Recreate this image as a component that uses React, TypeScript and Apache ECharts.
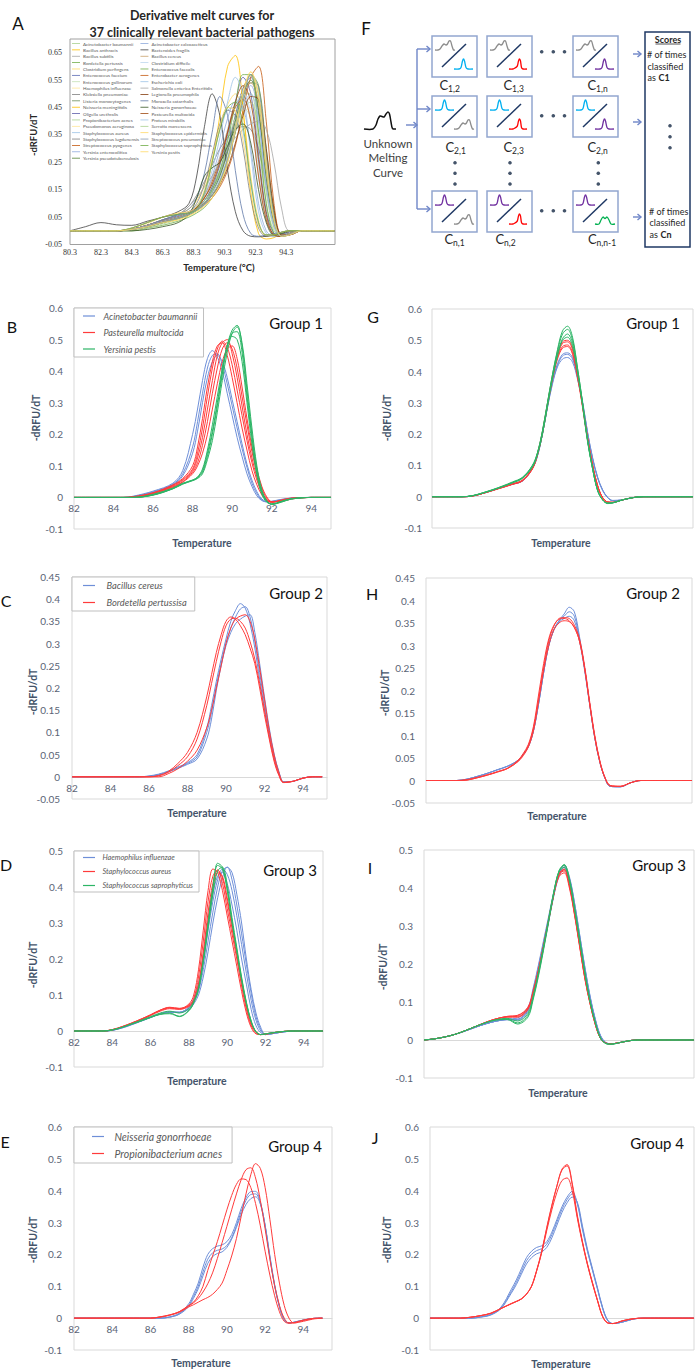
import React, { useEffect, useRef } from "react";
import * as echarts from "echarts";

const FONT = "Lato, 'Noto Sans', sans-serif";
const SERIF = "'Liberation Serif', 'DejaVu Serif', serif";
const TICK = "#5A6375";
const TITLE = "#44546A";
const BLUE = "#6E8FD8";
const RED = "#FF3B3B";
const GREEN = "#2DB566";
const LINE_ICON = "path://M0,0L20,0L20,2L0,2Z";

// ---------------- Panel A (37 pathogens) ----------------
const TEMP_A = [80.3, 81.3, 82.3, 83.3, 84.3, 85.3, 86.3, 87.3, 88, 88.5, 89, 89.5, 90, 90.5, 91, 91.5, 92, 92.5, 93, 93.5, 94, 94.5, 95.3, 97.4];
const A_NAMES = [
  "Acinetobacter baumannii", "Bacillus anthracis", "Bacillus subtilis", "Bordetella pertussis", "Clostridium perfingens",
  "Enterococcus faecium", "Enterococcus gallinarum", "Haemophilus influenzae", "Klebsiella pneumoniae", "Listeria monocytogenes",
  "Neisseria meningitidis", "Oligella urethralis", "Propionibacterium acnes", "Pseudomonas aeruginosa", "Staphylococcus aureus",
  "Staphylococcus lugdunensis", "Streptococcus pyogenes", "Yersinia enterocolitica", "Yersinia pseudotuberculosis",
  "Acinetobacter calcoaceticus", "Bacteroides fragilis", "Bacillus cereus", "Clostridium difficile", "Enterococcus faecalis",
  "Enterobacter aerogenes", "Escherichia coli", "Salmonella enterica Enteritidis", "Legionella pneumophila", "Moraxella catarrhalis",
  "Neisseria gonorrhoeae", "Pasteurella multocida", "Proteus mirabilis", "Serratia marcescens", "Staphylococcus epidermidis",
  "Streptococcus pneumoniae", "Staphylococcus saprophyticus", "Yersinia pestis",
];
const A_COLORS = [
  "#A9D18E", "#FFC000", "#A5A5A5", "#70AD47", "#FFD966", "#5B6BB5", "#C5E0B4", "#FFE699", "#7F7F7F", "#6B8E5A",
  "#FFC000", "#5E5EAA", "#A9D18E", "#FFE699", "#9DC3E6", "#7F7F7F", "#C55A11", "#8FAADC", "#548235",
  "#8FAADC", "#404040", "#C9A26B", "#BDD7EE", "#70AD47", "#C55A11", "#9DC3E6", "#A5A5A5", "#843C0C", "#5F78A8",
  "#375623", "#9E480E", "#9DC3E6", "#A9D18E", "#FFD966", "#8497B0", "#70AD47", "#FFD966",
];
const A_CURVES = [
  [0, 0, 0, 0, 0.005, 0.02, 0.035, 0.05, 0.065, 0.085, 0.11, 0.16, 0.22, 0.31, 0.42, 0.5, 0.5, 0.32, 0.1, 0, -0.02, -0.01, 0, 0],
  [0, 0, 0, 0, 0.005, 0.015, 0.03, 0.045, 0.06, 0.075, 0.1, 0.14, 0.2, 0.29, 0.41, 0.52, 0.57, 0.45, 0.2, 0.03, -0.02, -0.015, 0, 0],
  [0, 0, 0, 0, 0.005, 0.02, 0.04, 0.055, 0.07, 0.09, 0.13, 0.19, 0.27, 0.37, 0.46, 0.49, 0.4, 0.2, 0.04, -0.015, -0.02, -0.01, 0, 0],
  [0, 0, 0, 0, 0, 0.01, 0.02, 0.035, 0.05, 0.065, 0.085, 0.12, 0.17, 0.25, 0.36, 0.48, 0.57, 0.53, 0.28, 0.06, -0.02, -0.015, 0, 0],
  [0, 0, 0, 0, 0.005, 0.02, 0.04, 0.06, 0.08, 0.11, 0.17, 0.26, 0.37, 0.46, 0.5, 0.42, 0.2, 0.04, -0.02, -0.02, -0.01, 0, 0, 0],
  [0, 0, 0, 0, 0.005, 0.02, 0.04, 0.055, 0.07, 0.085, 0.11, 0.15, 0.21, 0.3, 0.42, 0.52, 0.56, 0.43, 0.18, 0.02, -0.02, -0.01, 0, 0],
  [0, 0, 0, 0, 0.005, 0.02, 0.035, 0.05, 0.065, 0.085, 0.12, 0.17, 0.24, 0.33, 0.41, 0.45, 0.41, 0.25, 0.07, -0.01, -0.02, -0.01, 0, 0],
  [0, 0, 0, 0, 0.005, 0.025, 0.05, 0.065, 0.07, 0.08, 0.1, 0.14, 0.2, 0.28, 0.37, 0.43, 0.45, 0.36, 0.15, 0.02, -0.015, -0.01, 0, 0],
  [0, 0, 0, 0, 0.005, 0.02, 0.04, 0.06, 0.09, 0.13, 0.18, 0.24, 0.3, 0.34, 0.37, 0.38, 0.37, 0.3, 0.17, 0.05, -0.01, -0.01, 0, 0],
  [0, 0, 0, 0, 0.005, 0.02, 0.035, 0.05, 0.065, 0.08, 0.1, 0.13, 0.18, 0.26, 0.36, 0.47, 0.54, 0.53, 0.3, 0.07, -0.02, -0.015, 0, 0],
  [0, 0, 0, 0, 0.005, 0.015, 0.03, 0.045, 0.06, 0.08, 0.13, 0.25, 0.42, 0.6, 0.64, 0.45, 0.14, -0.01, -0.03, -0.025, -0.01, 0, 0, 0],
  [0, 0, 0, 0, 0.005, 0.02, 0.035, 0.05, 0.065, 0.08, 0.11, 0.16, 0.24, 0.35, 0.47, 0.56, 0.5, 0.28, 0.07, -0.01, -0.02, -0.01, 0, 0],
  [0, 0, 0, 0, 0, 0.01, 0.025, 0.04, 0.06, 0.08, 0.11, 0.15, 0.21, 0.29, 0.38, 0.45, 0.47, 0.36, 0.14, 0.01, -0.02, -0.01, 0, 0],
  [0, 0, 0, 0, 0.005, 0.015, 0.03, 0.04, 0.055, 0.07, 0.09, 0.12, 0.17, 0.25, 0.37, 0.5, 0.58, 0.5, 0.24, 0.04, -0.02, -0.015, 0, 0],
  [0, 0, 0, 0, 0.01, 0.03, 0.05, 0.06, 0.065, 0.08, 0.14, 0.25, 0.37, 0.44, 0.45, 0.36, 0.17, 0.03, -0.015, -0.015, -0.005, 0, 0, 0],
  [0, 0, 0, 0, 0.01, 0.03, 0.05, 0.06, 0.07, 0.1, 0.17, 0.28, 0.39, 0.44, 0.42, 0.3, 0.12, 0.01, -0.02, -0.015, -0.005, 0, 0, 0],
  [0, 0, 0, 0, 0.005, 0.015, 0.03, 0.045, 0.06, 0.075, 0.095, 0.12, 0.16, 0.22, 0.31, 0.44, 0.56, 0.6, 0.4, 0.1, -0.015, -0.015, 0, 0],
  [0, 0, 0, 0, 0.005, 0.015, 0.03, 0.045, 0.06, 0.075, 0.1, 0.14, 0.2, 0.29, 0.4, 0.5, 0.53, 0.4, 0.16, 0.02, -0.02, -0.01, 0, 0],
  [0, 0, 0, 0, 0.005, 0.015, 0.03, 0.045, 0.06, 0.075, 0.1, 0.14, 0.2, 0.29, 0.4, 0.5, 0.55, 0.44, 0.19, 0.03, -0.02, -0.01, 0, 0],
  [0, 0, 0, 0, 0.005, 0.02, 0.035, 0.05, 0.07, 0.09, 0.13, 0.2, 0.3, 0.41, 0.47, 0.45, 0.3, 0.1, 0, -0.02, -0.015, -0.005, 0, 0],
  [0, 0.015, 0.03, 0.022, 0.02, 0.035, 0.05, 0.07, 0.1, 0.2, 0.38, 0.5, 0.42, 0.22, 0.07, 0, -0.02, -0.022, -0.02, -0.015, -0.01, -0.004, 0, 0],
  [0, 0, 0, 0, 0.005, 0.02, 0.035, 0.05, 0.065, 0.08, 0.1, 0.13, 0.18, 0.26, 0.38, 0.49, 0.54, 0.47, 0.22, 0.04, -0.02, -0.01, 0, 0],
  [0, 0, 0, 0, 0.005, 0.02, 0.035, 0.05, 0.065, 0.085, 0.12, 0.18, 0.26, 0.36, 0.46, 0.5, 0.43, 0.23, 0.05, -0.015, -0.02, -0.01, 0, 0],
  [0, 0, 0, 0, 0.005, 0.015, 0.03, 0.045, 0.06, 0.075, 0.1, 0.15, 0.22, 0.33, 0.46, 0.57, 0.57, 0.36, 0.1, -0.01, -0.02, -0.01, 0, 0],
  [0, 0, 0, 0, 0.005, 0.02, 0.035, 0.05, 0.065, 0.085, 0.12, 0.18, 0.26, 0.36, 0.45, 0.48, 0.4, 0.2, 0.04, -0.015, -0.02, -0.01, 0, 0],
  [0, 0, 0, 0, 0.005, 0.02, 0.035, 0.05, 0.065, 0.09, 0.14, 0.22, 0.34, 0.47, 0.56, 0.5, 0.28, 0.07, -0.01, -0.02, -0.01, 0, 0, 0],
  [0, 0, 0, 0, 0.005, 0.02, 0.04, 0.06, 0.09, 0.12, 0.16, 0.2, 0.25, 0.3, 0.34, 0.37, 0.39, 0.4, 0.37, 0.25, 0.08, 0, 0, 0],
  [0, 0, 0, 0, 0.005, 0.02, 0.035, 0.05, 0.065, 0.08, 0.1, 0.13, 0.17, 0.23, 0.32, 0.42, 0.49, 0.48, 0.3, 0.08, -0.015, -0.015, 0, 0],
  [0, 0, 0, 0, 0.005, 0.02, 0.04, 0.06, 0.08, 0.12, 0.21, 0.36, 0.49, 0.42, 0.22, 0.06, -0.01, -0.02, -0.015, -0.01, -0.005, 0, 0, 0],
  [0, 0, 0, 0, 0, 0.005, 0.015, 0.03, 0.06, 0.12, 0.2, 0.23, 0.25, 0.31, 0.37, 0.39, 0.32, 0.15, 0.03, -0.015, -0.01, 0, 0, 0],
  [0, 0, 0, 0, 0.005, 0.02, 0.035, 0.05, 0.065, 0.085, 0.12, 0.17, 0.25, 0.36, 0.47, 0.53, 0.47, 0.26, 0.06, -0.015, -0.02, -0.01, 0, 0],
  [0, 0, 0, 0, 0.005, 0.02, 0.035, 0.05, 0.065, 0.08, 0.1, 0.14, 0.19, 0.27, 0.37, 0.46, 0.5, 0.4, 0.17, 0.02, -0.02, -0.01, 0, 0],
  [0, 0, 0, 0, 0.005, 0.015, 0.03, 0.045, 0.06, 0.075, 0.095, 0.13, 0.18, 0.26, 0.38, 0.5, 0.57, 0.49, 0.23, 0.04, -0.02, -0.015, 0, 0],
  [0, 0, 0, 0, 0.01, 0.03, 0.05, 0.065, 0.07, 0.09, 0.15, 0.26, 0.38, 0.45, 0.44, 0.33, 0.14, 0.02, -0.015, -0.015, -0.005, 0, 0, 0],
  [0, 0, 0, 0, 0.005, 0.015, 0.03, 0.045, 0.06, 0.075, 0.095, 0.13, 0.18, 0.26, 0.37, 0.49, 0.57, 0.52, 0.27, 0.05, -0.02, -0.015, 0, 0],
  [0, 0, 0, 0, 0.01, 0.03, 0.05, 0.06, 0.065, 0.08, 0.14, 0.25, 0.37, 0.45, 0.47, 0.38, 0.18, 0.03, -0.015, -0.015, -0.005, 0, 0, 0],
  [0, 0, 0, 0, 0.005, 0.015, 0.03, 0.04, 0.055, 0.07, 0.09, 0.12, 0.17, 0.25, 0.37, 0.5, 0.58, 0.5, 0.25, 0.04, -0.02, -0.015, 0, 0],
];

// ---------------- Group 1 : panel B (raw) ----------------
const TEMP_B = [82, 84.5, 85, 86, 87, 87.5, 88, 88.25, 88.5, 88.75, 89, 89.25, 89.5, 89.75, 90, 90.25, 90.5, 90.75, 91, 91.25, 91.5, 91.75, 92, 92.5, 93, 94, 95];
const B_BAUMANNII = [
  [0, 0, 0.004, 0.02, 0.045, 0.085, 0.2, 0.28, 0.37, 0.44, 0.465, 0.445, 0.4, 0.33, 0.26, 0.19, 0.13, 0.075, 0.035, 0.005, -0.01, -0.014, -0.012, -0.006, -0.002, 0, 0],
  [0, 0, 0.003, 0.018, 0.042, 0.075, 0.16, 0.24, 0.33, 0.41, 0.45, 0.455, 0.42, 0.36, 0.29, 0.22, 0.155, 0.095, 0.045, 0.012, -0.008, -0.014, -0.013, -0.007, -0.002, 0, 0],
  [0, 0, 0.002, 0.016, 0.04, 0.068, 0.14, 0.21, 0.3, 0.38, 0.43, 0.45, 0.43, 0.38, 0.31, 0.24, 0.17, 0.105, 0.055, 0.018, -0.005, -0.013, -0.014, -0.008, -0.003, 0, 0],
];
const B_MULTOCIDA = [
  [0, 0, 0.002, 0.015, 0.04, 0.06, 0.1, 0.16, 0.25, 0.35, 0.43, 0.48, 0.49, 0.45, 0.38, 0.3, 0.22, 0.15, 0.085, 0.04, 0.008, -0.01, -0.015, -0.008, -0.002, 0, 0],
  [0, 0, 0.002, 0.014, 0.038, 0.057, 0.09, 0.14, 0.22, 0.32, 0.41, 0.47, 0.495, 0.475, 0.42, 0.34, 0.26, 0.18, 0.11, 0.055, 0.015, -0.008, -0.015, -0.009, -0.003, 0, 0],
  [0, 0, 0.001, 0.013, 0.036, 0.054, 0.085, 0.125, 0.19, 0.28, 0.37, 0.45, 0.49, 0.5, 0.455, 0.38, 0.29, 0.2, 0.125, 0.065, 0.02, -0.006, -0.015, -0.01, -0.003, 0, 0],
  [0, 0, 0, 0.012, 0.034, 0.05, 0.08, 0.11, 0.165, 0.24, 0.33, 0.41, 0.47, 0.49, 0.47, 0.41, 0.32, 0.23, 0.145, 0.08, 0.03, -0.002, -0.014, -0.011, -0.004, 0, 0],
  [0, 0, 0, 0.01, 0.032, 0.048, 0.075, 0.1, 0.14, 0.2, 0.28, 0.36, 0.43, 0.47, 0.48, 0.44, 0.35, 0.25, 0.16, 0.09, 0.035, 0.002, -0.013, -0.012, -0.005, 0, 0],
];
const B_PESTIS = [
  [0, 0, 0, 0.01, 0.03, 0.045, 0.055, 0.065, 0.09, 0.15, 0.23, 0.32, 0.41, 0.48, 0.51, 0.5, 0.43, 0.3, 0.17, 0.07, 0.01, -0.015, -0.02, -0.012, -0.004, 0, 0],
  [0, 0, 0, 0.008, 0.028, 0.043, 0.054, 0.062, 0.08, 0.13, 0.2, 0.29, 0.39, 0.48, 0.53, 0.545, 0.48, 0.34, 0.2, 0.09, 0.02, -0.012, -0.022, -0.014, -0.005, 0, 0],
  [0, 0, 0, 0.007, 0.027, 0.042, 0.053, 0.06, 0.075, 0.12, 0.18, 0.27, 0.37, 0.46, 0.52, 0.54, 0.49, 0.36, 0.22, 0.1, 0.025, -0.01, -0.022, -0.015, -0.005, 0, 0],
  [0, 0, 0, 0.008, 0.028, 0.044, 0.055, 0.063, 0.085, 0.14, 0.21, 0.3, 0.4, 0.48, 0.52, 0.525, 0.46, 0.32, 0.19, 0.08, 0.015, -0.013, -0.021, -0.013, -0.004, 0, 0],
];

// ---------------- Group 1 : panel G (aligned) ----------------
const TEMP_G = [82, 83.5, 84, 84.5, 85, 85.5, 86, 86.5, 87, 87.25, 87.5, 87.75, 88, 88.25, 88.5, 88.75, 89, 89.25, 89.5, 89.75, 90, 90.25, 90.5, 90.75, 91, 91.5, 92, 92.5, 93, 95];
const G_BAUMANNII = [
  [0, 0, 0.002, 0.01, 0.02, 0.03, 0.04, 0.05, 0.09, 0.13, 0.2, 0.285, 0.365, 0.42, 0.45, 0.455, 0.44, 0.38, 0.3, 0.2, 0.12, 0.06, 0.02, -0.003, -0.012, -0.01, -0.003, 0, 0, 0],
  [0, 0, 0.002, 0.01, 0.02, 0.03, 0.04, 0.05, 0.09, 0.13, 0.2, 0.285, 0.36, 0.415, 0.44, 0.445, 0.43, 0.375, 0.3, 0.205, 0.125, 0.063, 0.022, -0.002, -0.012, -0.01, -0.003, 0, 0, 0],
  [0, 0, 0.002, 0.01, 0.02, 0.03, 0.04, 0.05, 0.09, 0.13, 0.2, 0.29, 0.37, 0.425, 0.455, 0.46, 0.445, 0.385, 0.305, 0.205, 0.122, 0.06, 0.02, -0.003, -0.013, -0.01, -0.003, 0, 0, 0],
];
const G_MULTOCIDA = [
  [0, 0, 0.002, 0.01, 0.02, 0.03, 0.04, 0.052, 0.09, 0.135, 0.205, 0.295, 0.38, 0.45, 0.49, 0.495, 0.47, 0.39, 0.29, 0.185, 0.1, 0.035, -0.003, -0.017, -0.018, -0.01, -0.003, 0, 0, 0],
  [0, 0, 0.002, 0.01, 0.02, 0.03, 0.04, 0.052, 0.09, 0.135, 0.205, 0.295, 0.38, 0.445, 0.48, 0.485, 0.46, 0.385, 0.29, 0.185, 0.1, 0.035, -0.003, -0.017, -0.018, -0.01, -0.003, 0, 0, 0],
  [0, 0, 0.002, 0.01, 0.02, 0.03, 0.041, 0.053, 0.092, 0.137, 0.207, 0.297, 0.385, 0.455, 0.495, 0.5, 0.475, 0.395, 0.295, 0.19, 0.102, 0.036, -0.003, -0.017, -0.018, -0.01, -0.003, 0, 0, 0],
  [0, 0, 0.002, 0.01, 0.019, 0.029, 0.039, 0.05, 0.088, 0.132, 0.2, 0.29, 0.375, 0.44, 0.475, 0.48, 0.455, 0.38, 0.285, 0.18, 0.097, 0.033, -0.004, -0.017, -0.018, -0.01, -0.003, 0, 0, 0],
];
const G_PESTIS = [
  [0, 0, 0.003, 0.012, 0.022, 0.033, 0.045, 0.06, 0.1, 0.14, 0.21, 0.3, 0.39, 0.47, 0.53, 0.545, 0.51, 0.41, 0.3, 0.18, 0.09, 0.02, -0.01, -0.022, -0.02, -0.01, -0.003, 0, 0, 0],
  [0, 0, 0.003, 0.012, 0.022, 0.034, 0.047, 0.062, 0.1, 0.14, 0.21, 0.3, 0.39, 0.465, 0.52, 0.535, 0.5, 0.41, 0.3, 0.18, 0.09, 0.02, -0.01, -0.021, -0.02, -0.01, -0.003, 0, 0, 0],
  [0, 0, 0.003, 0.011, 0.021, 0.032, 0.045, 0.06, 0.095, 0.135, 0.2, 0.29, 0.38, 0.455, 0.505, 0.52, 0.49, 0.4, 0.295, 0.18, 0.09, 0.02, -0.01, -0.021, -0.019, -0.01, -0.003, 0, 0, 0],
  [0, 0, 0.003, 0.011, 0.021, 0.032, 0.044, 0.058, 0.095, 0.135, 0.2, 0.29, 0.38, 0.45, 0.5, 0.51, 0.48, 0.395, 0.29, 0.175, 0.088, 0.02, -0.01, -0.02, -0.019, -0.01, -0.003, 0, 0, 0],
];

// ---------------- Group 2 : panel C (raw) ----------------
const TEMP_C = [82, 85.5, 86, 86.5, 87, 87.5, 88, 88.5, 89, 89.25, 89.5, 89.75, 90, 90.25, 90.5, 90.75, 91, 91.25, 91.5, 91.75, 92, 92.25, 92.5, 92.75, 93, 93.5, 94, 94.5, 95];
const C_CEREUS = [
  [0, 0, 0.002, 0.006, 0.013, 0.022, 0.032, 0.05, 0.11, 0.16, 0.215, 0.265, 0.31, 0.35, 0.375, 0.39, 0.38, 0.345, 0.29, 0.22, 0.155, 0.095, 0.045, 0.008, -0.012, -0.01, -0.003, 0, 0],
  [0, 0, 0.001, 0.005, 0.012, 0.02, 0.03, 0.045, 0.1, 0.145, 0.205, 0.255, 0.3, 0.335, 0.36, 0.378, 0.383, 0.36, 0.305, 0.235, 0.165, 0.1, 0.048, 0.01, -0.012, -0.01, -0.003, 0, 0],
  [0, 0, 0.001, 0.004, 0.011, 0.019, 0.028, 0.04, 0.085, 0.13, 0.195, 0.25, 0.295, 0.325, 0.345, 0.355, 0.362, 0.365, 0.325, 0.255, 0.18, 0.11, 0.052, 0.012, -0.011, -0.01, -0.003, 0, 0],
];
const C_PERTUSSIS = [
  [0, 0, 0, 0.003, 0.012, 0.03, 0.055, 0.1, 0.18, 0.23, 0.28, 0.32, 0.35, 0.36, 0.355, 0.34, 0.32, 0.29, 0.255, 0.2, 0.14, 0.085, 0.035, 0.003, -0.013, -0.01, -0.003, 0, 0],
  [0, 0, 0, 0.002, 0.01, 0.025, 0.045, 0.085, 0.16, 0.21, 0.26, 0.305, 0.34, 0.355, 0.357, 0.35, 0.335, 0.305, 0.265, 0.21, 0.15, 0.09, 0.04, 0.005, -0.013, -0.01, -0.003, 0, 0],
  [0, 0, 0, 0, 0.007, 0.018, 0.035, 0.06, 0.11, 0.15, 0.2, 0.25, 0.3, 0.335, 0.355, 0.362, 0.365, 0.35, 0.31, 0.245, 0.175, 0.105, 0.05, 0.01, -0.012, -0.01, -0.003, 0, 0],
];

// ---------------- Group 2 : panel H (aligned) ----------------
const TEMP_H = [82, 83.5, 84, 84.5, 85, 85.5, 86, 86.5, 86.75, 87, 87.25, 87.5, 87.75, 88, 88.25, 88.5, 88.75, 89, 89.25, 89.5, 89.75, 90, 90.25, 90.5, 90.75, 91, 91.5, 92, 92.5, 93, 95];
const H_CEREUS = [
  [0, 0, 0.003, 0.009, 0.016, 0.024, 0.032, 0.045, 0.058, 0.075, 0.11, 0.17, 0.24, 0.3, 0.335, 0.355, 0.37, 0.385, 0.375, 0.32, 0.25, 0.17, 0.095, 0.04, 0.005, -0.013, -0.014, -0.005, 0, 0, 0],
  [0, 0, 0.003, 0.009, 0.016, 0.024, 0.032, 0.045, 0.058, 0.075, 0.11, 0.17, 0.24, 0.3, 0.335, 0.355, 0.365, 0.375, 0.365, 0.315, 0.25, 0.17, 0.095, 0.04, 0.005, -0.013, -0.014, -0.005, 0, 0, 0],
  [0, 0, 0.003, 0.009, 0.016, 0.024, 0.032, 0.045, 0.058, 0.075, 0.11, 0.17, 0.24, 0.3, 0.335, 0.352, 0.36, 0.365, 0.355, 0.31, 0.245, 0.168, 0.094, 0.04, 0.005, -0.013, -0.014, -0.005, 0, 0, 0],
];
const H_PERTUSSIS = [
  [0, 0, 0.002, 0.007, 0.013, 0.02, 0.028, 0.045, 0.06, 0.08, 0.12, 0.19, 0.26, 0.315, 0.345, 0.358, 0.36, 0.355, 0.34, 0.31, 0.25, 0.17, 0.095, 0.04, 0.005, -0.012, -0.013, -0.005, 0, 0, 0],
  [0, 0, 0.001, 0.006, 0.012, 0.019, 0.027, 0.043, 0.057, 0.077, 0.115, 0.18, 0.25, 0.31, 0.343, 0.36, 0.362, 0.36, 0.345, 0.315, 0.255, 0.175, 0.1, 0.043, 0.007, -0.011, -0.013, -0.005, 0, 0, 0],
  [0, 0, 0.001, 0.006, 0.012, 0.019, 0.027, 0.042, 0.055, 0.074, 0.11, 0.175, 0.245, 0.3, 0.335, 0.35, 0.355, 0.353, 0.34, 0.31, 0.25, 0.17, 0.097, 0.042, 0.006, -0.011, -0.013, -0.005, 0, 0, 0],
];

// ---------------- Group 3 : panel D (raw) ----------------
const TEMP_D = [82, 83.5, 84, 84.5, 85, 85.5, 86, 86.5, 87, 87.5, 88, 88.25, 88.5, 88.75, 89, 89.25, 89.5, 89.75, 90, 90.25, 90.5, 90.75, 91, 91.25, 91.5, 91.75, 92, 92.5, 93, 93.5, 95];
const D_INFLUENZAE = [
  [0, 0, 0.002, 0.009, 0.018, 0.028, 0.038, 0.048, 0.053, 0.052, 0.065, 0.085, 0.12, 0.19, 0.28, 0.36, 0.42, 0.45, 0.435, 0.39, 0.32, 0.24, 0.16, 0.085, 0.03, 0, -0.01, -0.006, -0.002, 0, 0],
  [0, 0, 0.002, 0.009, 0.018, 0.028, 0.038, 0.048, 0.053, 0.052, 0.063, 0.08, 0.11, 0.17, 0.25, 0.33, 0.4, 0.445, 0.455, 0.42, 0.35, 0.27, 0.185, 0.105, 0.04, 0.005, -0.01, -0.006, -0.002, 0, 0],
  [0, 0, 0.002, 0.008, 0.017, 0.027, 0.037, 0.047, 0.052, 0.051, 0.06, 0.075, 0.1, 0.15, 0.22, 0.3, 0.37, 0.425, 0.455, 0.44, 0.38, 0.3, 0.2, 0.115, 0.05, 0.01, -0.009, -0.006, -0.002, 0, 0],
  [0, 0, 0.002, 0.009, 0.018, 0.028, 0.038, 0.048, 0.053, 0.052, 0.067, 0.09, 0.13, 0.21, 0.3, 0.38, 0.43, 0.44, 0.41, 0.35, 0.28, 0.2, 0.13, 0.06, 0.015, -0.005, -0.01, -0.006, -0.002, 0, 0],
];
const D_AUREUS = [
  [0, 0, 0.004, 0.012, 0.022, 0.033, 0.045, 0.058, 0.065, 0.062, 0.075, 0.1, 0.17, 0.28, 0.39, 0.45, 0.44, 0.39, 0.32, 0.25, 0.18, 0.11, 0.05, 0.01, -0.008, -0.01, -0.008, -0.004, -0.001, 0, 0],
  [0, 0, 0.004, 0.012, 0.022, 0.033, 0.045, 0.058, 0.066, 0.063, 0.072, 0.09, 0.15, 0.25, 0.36, 0.43, 0.447, 0.41, 0.34, 0.27, 0.2, 0.125, 0.06, 0.015, -0.005, -0.01, -0.008, -0.004, -0.001, 0, 0],
  [0, 0, 0.003, 0.011, 0.021, 0.032, 0.044, 0.057, 0.064, 0.061, 0.07, 0.085, 0.13, 0.22, 0.33, 0.41, 0.447, 0.425, 0.36, 0.285, 0.21, 0.135, 0.068, 0.02, -0.003, -0.01, -0.009, -0.004, -0.001, 0, 0],
  [0, 0, 0.003, 0.011, 0.021, 0.031, 0.043, 0.055, 0.062, 0.06, 0.068, 0.082, 0.125, 0.21, 0.31, 0.395, 0.44, 0.43, 0.37, 0.295, 0.22, 0.14, 0.072, 0.022, -0.002, -0.01, -0.009, -0.004, -0.001, 0, 0],
];
const D_SAPROPHYTICUS = [
  [0, 0, 0.003, 0.01, 0.019, 0.028, 0.038, 0.047, 0.05, 0.041, 0.058, 0.08, 0.12, 0.2, 0.3, 0.4, 0.46, 0.45, 0.39, 0.3, 0.22, 0.14, 0.075, 0.025, -0.002, -0.01, -0.008, -0.004, -0.001, 0, 0],
  [0, 0, 0.003, 0.01, 0.019, 0.028, 0.038, 0.046, 0.048, 0.04, 0.056, 0.078, 0.115, 0.195, 0.295, 0.395, 0.466, 0.455, 0.395, 0.305, 0.225, 0.145, 0.078, 0.027, -0.002, -0.01, -0.008, -0.004, -0.001, 0, 0],
  [0, 0, 0.003, 0.01, 0.02, 0.03, 0.04, 0.05, 0.055, 0.05, 0.062, 0.082, 0.118, 0.19, 0.285, 0.38, 0.445, 0.455, 0.405, 0.315, 0.232, 0.15, 0.08, 0.028, -0.002, -0.01, -0.008, -0.004, -0.001, 0, 0],
];

// ---------------- Group 3 : panel I (aligned) ----------------
const TEMP_I = [82, 82.5, 83, 83.5, 84, 84.5, 85, 85.5, 86, 86.5, 87, 87.25, 87.5, 87.75, 88, 88.25, 88.5, 88.75, 89, 89.25, 89.5, 89.75, 90, 90.25, 90.5, 90.75, 91, 91.5, 92, 92.5, 95];
const I_INFLUENZAE = [
  [0, 0.003, 0.008, 0.015, 0.024, 0.034, 0.043, 0.05, 0.053, 0.052, 0.075, 0.12, 0.175, 0.24, 0.31, 0.38, 0.435, 0.455, 0.425, 0.355, 0.27, 0.185, 0.11, 0.052, 0.01, -0.007, -0.01, -0.006, -0.001, 0, 0],
  [0, 0.003, 0.008, 0.015, 0.024, 0.034, 0.043, 0.05, 0.054, 0.055, 0.08, 0.13, 0.19, 0.255, 0.32, 0.385, 0.44, 0.46, 0.43, 0.36, 0.275, 0.19, 0.113, 0.053, 0.01, -0.007, -0.01, -0.006, -0.001, 0, 0],
  [0, 0.003, 0.008, 0.015, 0.024, 0.034, 0.043, 0.05, 0.055, 0.058, 0.085, 0.135, 0.195, 0.26, 0.325, 0.39, 0.44, 0.455, 0.42, 0.35, 0.265, 0.18, 0.108, 0.05, 0.009, -0.007, -0.01, -0.006, -0.001, 0, 0],
  [0, 0.003, 0.008, 0.015, 0.024, 0.034, 0.043, 0.05, 0.054, 0.054, 0.078, 0.125, 0.185, 0.25, 0.315, 0.38, 0.43, 0.45, 0.425, 0.36, 0.275, 0.19, 0.115, 0.055, 0.012, -0.006, -0.01, -0.006, -0.001, 0, 0],
];
const I_AUREUS = [
  [0, 0.003, 0.008, 0.015, 0.025, 0.036, 0.047, 0.056, 0.062, 0.065, 0.085, 0.125, 0.18, 0.245, 0.315, 0.385, 0.435, 0.445, 0.405, 0.33, 0.245, 0.16, 0.095, 0.04, 0.004, -0.008, -0.01, -0.006, -0.001, 0, 0],
  [0, 0.003, 0.008, 0.015, 0.025, 0.036, 0.047, 0.056, 0.061, 0.062, 0.082, 0.125, 0.18, 0.245, 0.315, 0.385, 0.438, 0.45, 0.41, 0.335, 0.25, 0.165, 0.097, 0.042, 0.004, -0.008, -0.01, -0.006, -0.001, 0, 0],
  [0, 0.003, 0.008, 0.015, 0.025, 0.036, 0.047, 0.056, 0.062, 0.064, 0.086, 0.127, 0.182, 0.247, 0.316, 0.383, 0.43, 0.44, 0.4, 0.328, 0.243, 0.16, 0.094, 0.04, 0.004, -0.008, -0.01, -0.006, -0.001, 0, 0],
  [0, 0.003, 0.008, 0.015, 0.025, 0.036, 0.047, 0.056, 0.06, 0.06, 0.08, 0.122, 0.178, 0.243, 0.313, 0.383, 0.436, 0.448, 0.408, 0.333, 0.248, 0.163, 0.096, 0.041, 0.004, -0.008, -0.01, -0.006, -0.001, 0, 0],
];
const I_SAPROPHYTICUS = [
  [0, 0.003, 0.008, 0.015, 0.025, 0.036, 0.046, 0.053, 0.055, 0.045, 0.065, 0.11, 0.17, 0.24, 0.315, 0.39, 0.445, 0.46, 0.42, 0.345, 0.26, 0.175, 0.1, 0.045, 0.005, -0.009, -0.011, -0.006, -0.001, 0, 0],
  [0, 0.003, 0.008, 0.015, 0.025, 0.036, 0.046, 0.053, 0.054, 0.042, 0.06, 0.105, 0.165, 0.235, 0.31, 0.385, 0.445, 0.462, 0.425, 0.35, 0.265, 0.178, 0.102, 0.046, 0.005, -0.009, -0.011, -0.006, -0.001, 0, 0],
  [0, 0.003, 0.008, 0.015, 0.025, 0.036, 0.046, 0.054, 0.057, 0.05, 0.07, 0.115, 0.175, 0.245, 0.318, 0.39, 0.442, 0.455, 0.418, 0.343, 0.258, 0.173, 0.1, 0.044, 0.005, -0.009, -0.011, -0.006, -0.001, 0, 0],
];

// ---------------- Group 4 : panel E (raw) ----------------
const TEMP_E = [82, 86, 86.5, 87, 87.5, 88, 88.25, 88.5, 88.75, 89, 89.25, 89.5, 89.75, 90, 90.25, 90.5, 90.75, 91, 91.25, 91.5, 91.75, 92, 92.25, 92.5, 92.75, 93, 93.25, 93.5, 94, 94.5, 95];
const E_GONORRHOEAE = [
  [0, 0, 0, 0.004, 0.015, 0.045, 0.075, 0.11, 0.16, 0.2, 0.218, 0.226, 0.23, 0.24, 0.262, 0.3, 0.345, 0.378, 0.397, 0.398, 0.365, 0.29, 0.19, 0.1, 0.035, -0.005, -0.015, -0.013, -0.006, -0.001, 0],
  [0, 0, 0, 0.003, 0.013, 0.04, 0.068, 0.1, 0.145, 0.185, 0.205, 0.213, 0.217, 0.228, 0.252, 0.29, 0.335, 0.37, 0.388, 0.39, 0.36, 0.29, 0.192, 0.102, 0.036, -0.005, -0.015, -0.013, -0.006, -0.001, 0],
  [0, 0, 0, 0.003, 0.012, 0.036, 0.062, 0.092, 0.133, 0.172, 0.193, 0.203, 0.208, 0.222, 0.248, 0.285, 0.325, 0.357, 0.375, 0.381, 0.358, 0.292, 0.196, 0.105, 0.038, -0.004, -0.015, -0.013, -0.006, -0.001, 0],
];
const E_ACNES = [
  [0, 0, 0.004, 0.01, 0.02, 0.04, 0.05, 0.07, 0.1, 0.15, 0.195, 0.24, 0.29, 0.34, 0.385, 0.42, 0.437, 0.435, 0.41, 0.36, 0.29, 0.21, 0.135, 0.07, 0.02, -0.01, -0.016, -0.014, -0.006, -0.001, 0],
  [0, 0, 0.004, 0.01, 0.02, 0.038, 0.048, 0.062, 0.082, 0.108, 0.142, 0.187, 0.237, 0.288, 0.34, 0.39, 0.435, 0.466, 0.472, 0.44, 0.37, 0.28, 0.185, 0.102, 0.04, 0, -0.015, -0.015, -0.007, -0.001, 0],
  [0, 0, 0.003, 0.009, 0.018, 0.035, 0.042, 0.05, 0.058, 0.065, 0.075, 0.09, 0.11, 0.15, 0.195, 0.25, 0.32, 0.39, 0.45, 0.485, 0.47, 0.41, 0.31, 0.2, 0.11, 0.04, 0, -0.015, -0.01, -0.003, 0],
];

// ---------------- Group 4 : panel J (aligned) ----------------
const TEMP_J = [82, 83.5, 84, 84.5, 85, 85.5, 86, 86.25, 86.5, 86.75, 87, 87.25, 87.5, 87.75, 88, 88.25, 88.5, 88.75, 89, 89.25, 89.5, 89.75, 90, 90.25, 90.5, 90.75, 91, 91.5, 92, 92.5, 95];
const J_GONORRHOEAE = [
  [0, 0, 0, 0.004, 0.012, 0.035, 0.09, 0.12, 0.155, 0.19, 0.21, 0.222, 0.227, 0.24, 0.27, 0.31, 0.35, 0.38, 0.398, 0.36, 0.28, 0.21, 0.15, 0.09, 0.03, -0.008, -0.017, -0.012, -0.003, 0, 0],
  [0, 0, 0, 0.004, 0.011, 0.032, 0.083, 0.112, 0.146, 0.18, 0.2, 0.212, 0.218, 0.232, 0.262, 0.302, 0.342, 0.372, 0.39, 0.362, 0.285, 0.213, 0.152, 0.092, 0.032, -0.007, -0.017, -0.012, -0.003, 0, 0],
  [0, 0, 0, 0.003, 0.01, 0.03, 0.078, 0.105, 0.138, 0.17, 0.19, 0.202, 0.208, 0.222, 0.252, 0.292, 0.332, 0.362, 0.38, 0.365, 0.292, 0.218, 0.156, 0.095, 0.034, -0.006, -0.017, -0.012, -0.003, 0, 0],
];
const J_ACNES = [
  [0, 0, 0.003, 0.008, 0.015, 0.03, 0.045, 0.052, 0.06, 0.075, 0.1, 0.15, 0.21, 0.285, 0.355, 0.415, 0.465, 0.478, 0.42, 0.32, 0.24, 0.17, 0.11, 0.055, 0.005, -0.015, -0.017, -0.008, -0.002, 0, 0],
  [0, 0, 0.003, 0.008, 0.016, 0.031, 0.046, 0.053, 0.061, 0.076, 0.1, 0.148, 0.208, 0.282, 0.352, 0.415, 0.468, 0.482, 0.425, 0.325, 0.243, 0.172, 0.112, 0.056, 0.006, -0.015, -0.017, -0.008, -0.002, 0, 0],
  [0, 0, 0.003, 0.008, 0.015, 0.03, 0.045, 0.052, 0.06, 0.075, 0.1, 0.148, 0.205, 0.275, 0.34, 0.395, 0.432, 0.44, 0.4, 0.315, 0.237, 0.168, 0.108, 0.054, 0.005, -0.015, -0.017, -0.008, -0.002, 0, 0],
];

// ---------------- layout of the small panels ----------------
type Panel = {
  left: number; top: number; width: number; height: number;
  xmax: number; ymin: number; ymax: number; yint: number; xLabels: boolean; yMargin: number;
};
const PANELS: Panel[] = [
  { left: 74, top: 308, width: 257, height: 221, xmax: 95, ymin: -0.1, ymax: 0.6, yint: 0.1, xLabels: true, yMargin: 11 }, // B
  { left: 432, top: 309, width: 261, height: 219, xmax: 95, ymin: -0.1, ymax: 0.6, yint: 0.1, xLabels: false, yMargin: 10 }, // G
  { left: 72, top: 577, width: 255, height: 222, xmax: 95.25, ymin: -0.05, ymax: 0.45, yint: 0.05, xLabels: true, yMargin: 12 }, // C
  { left: 426, top: 578, width: 266, height: 225, xmax: 95, ymin: -0.05, ymax: 0.45, yint: 0.05, xLabels: false, yMargin: 11 }, // H
  { left: 74, top: 851, width: 249, height: 216, xmax: 95, ymin: -0.1, ymax: 0.5, yint: 0.1, xLabels: true, yMargin: 11 }, // D
  { left: 424, top: 850, width: 270, height: 228, xmax: 95, ymin: -0.1, ymax: 0.5, yint: 0.1, xLabels: false, yMargin: 11 }, // I
  { left: 74, top: 1127, width: 258, height: 223, xmax: 95.5, ymin: -0.1, ymax: 0.6, yint: 0.1, xLabels: true, yMargin: 12 }, // E
  { left: 430, top: 1127, width: 264, height: 223, xmax: 95, ymin: -0.1, ymax: 0.6, yint: 0.1, xLabels: false, yMargin: 11 }, // J
];

function lines(idx: number, name: string, temps: number[], curves: number[][], color: string, width = 1) {
  return curves.map((vals) => ({
    type: "line",
    name,
    xAxisIndex: idx,
    yAxisIndex: idx,
    data: temps.map((t, i) => [t, vals[i]]),
    symbol: "none",
    showSymbol: false,
    smooth: 0.35,
    silent: true,
    lineStyle: { color, width },
    itemStyle: { color },
    emphasis: { disabled: true },
    z: 2,
  }));
}

function txt(x: number, y: number, text: string, size: number, o: any = {}) {
  return {
    type: "text",
    x,
    y,
    rotation: o.rot || 0,
    silent: true,
    z: 20,
    style: {
      text,
      fontSize: size,
      fontFamily: o.family || FONT,
      fontWeight: o.weight || "normal",
      fontStyle: o.fstyle || "normal",
      fill: o.color || "#000",
      align: o.align || "center",
      verticalAlign: o.va || "middle",
    },
  };
}

const MINI: Record<string, number[][]> = {
  gray: [[0, 11], [3, 11], [5, 10], [7, 7], [9, 5], [11, 6], [12.5, 5], [14, 2], [15.5, 2], [17, 7], [18.5, 11], [20, 11]],
  peak: [[0, 11], [5, 11], [7, 9.5], [8.5, 3], [9.5, 1], [10.5, 3], [12, 9.5], [14, 11], [19, 11]],
  red: [[0, 11], [4, 11], [6, 10], [7.5, 9], [8.5, 7.5], [9.5, 3], [10.5, 1], [11.5, 3], [12.5, 9.5], [14, 11], [18, 11]],
  green: [[0, 11], [4, 11], [6, 7], [8, 4], [10, 5.5], [12, 4], [14, 7], [16, 11], [20, 11]],
};
const MINI_COLOR: Record<string, string> = { gray: "#8C8C8C", cyan: "#00B0F0", red: "#FF0000", purple: "#7030A0", green: "#00B050" };

function mini(kind: string, color: string, x: number, y: number) {
  const shape = MINI[kind];
  return {
    type: "polyline",
    silent: true,
    z: 21,
    shape: { points: shape.map((p) => [x + p[0], y + p[1]]), smooth: 0.3 },
    style: { stroke: MINI_COLOR[color], lineWidth: 1.3, fill: "none" },
  };
}

function chevron(x: number, y: number, color: string) {
  return {
    type: "polyline",
    silent: true,
    z: 21,
    shape: { points: [[x - 3.5, y - 3], [x, y], [x - 3.5, y + 3]] },
    style: { stroke: color, lineWidth: 1.4, fill: "none" },
  };
}

function seg(x1: number, y1: number, x2: number, y2: number, color: string, w = 1.4) {
  return { type: "line", silent: true, z: 21, shape: { x1, y1, x2, y2 }, style: { stroke: color, lineWidth: w } };
}

function dot(x: number, y: number) {
  return { type: "circle", silent: true, z: 21, shape: { cx: x, cy: y, r: 1.8 }, style: { fill: "#44546A" } };
}

function cLabel(cx: number, cy: number, sub: string) {
  const w = 8.7 + sub.length * 3.5;
  const x0 = cx - w / 2;
  return [
    txt(x0, cy, "C", 13, { align: "left", color: "#262626" }),
    txt(x0 + 8.7, cy + 4, sub, 8.5, { align: "left", color: "#262626" }),
  ];
}

function panelF(): any[] {
  const els: any[] = [];
  const bx = [432, 487, 573];
  const by = [36, 96, 191];
  const TL = [["gray", "gray"], ["peak", "cyan"], ["peak", "purple"]];
  const BR = [
    [["peak", "cyan"], ["red", "red"], ["peak", "purple"]],
    [["gray", "gray"], ["red", "red"], ["peak", "purple"]],
    [["gray", "gray"], ["red", "red"], ["green", "green"]],
  ];
  for (let r = 0; r < 3; r++) {
    for (let c = 0; c < 3; c++) {
      const x = bx[c];
      const y = by[r];
      els.push({ type: "rect", silent: true, z: 20, shape: { x, y, width: 45, height: 41 }, style: { fill: "#fff", stroke: "#93A6CF", lineWidth: 1.5 } });
      els.push(seg(x + 10, y + 31, x + 34, y + 8, "#1F3864", 1.5));
      els.push(mini(TL[r][0], TL[r][1], x + 3, y + 3));
      els.push(mini(BR[r][c][0], BR[r][c][1], x + 22, y + 22));
    }
  }
  els.push(...cLabel(449, 85, "1,2"), ...cLabel(513, 85, "1,3"), ...cLabel(597, 85, "1,n"));
  els.push(...cLabel(455, 147, "2,1"), ...cLabel(513, 147, "2,3"), ...cLabel(597, 147, "2,n"));
  els.push(...cLabel(454, 239, "n,1"), ...cLabel(505, 239, "n,2"), ...cLabel(601, 239, "n,n-1"));
  for (const yy of [51.7, 115.7, 210.7]) {
    els.push(dot(541.7, yy), dot(553.3, yy), dot(564.5, yy));
  }
  for (const xx of [455, 510, 598.3]) {
    els.push(dot(xx, 162.7), dot(xx, 173.3), dot(xx, 184));
  }
  els.push(dot(670, 125.7), dot(670, 136.7), dot(670, 147.7));
  els.push({
    type: "polyline",
    silent: true,
    z: 21,
    shape: {
      points: [[364, 129], [373, 129], [376, 125], [378, 119], [380, 116], [382, 116.5], [384, 117], [386, 114], [388, 112], [389.5, 114], [391, 122], [392.5, 128.5], [396, 129]],
      smooth: 0.3,
    },
    style: { stroke: "#111", lineWidth: 1.5, fill: "none" },
  });
  els.push(txt(388, 143, "Unknown", 11.5, { color: "#404040" }));
  els.push(txt(388, 157, "Melting", 11.5, { color: "#404040" }));
  els.push(txt(388, 172, "Curve", 11.5, { color: "#404040" }));
  const AC = "#6F86C8";
  els.push(seg(406, 125, 417, 125, AC), chevron(417, 125, AC));
  els.push(seg(417, 49, 417, 209, AC));
  for (const yy of [49, 109, 209]) {
    els.push(seg(417, yy, 430, yy, AC), chevron(430, yy, AC));
  }
  for (const yy of [54, 122, 217]) {
    els.push(seg(633, yy, 641, yy, AC), chevron(641, yy, AC));
  }
  els.push({ type: "rect", silent: true, z: 20, shape: { x: 645, y: 32, width: 45, height: 215 }, style: { fill: "#fff", stroke: "#1F3864", lineWidth: 1.5 } });
  els.push(txt(668, 39, "Scores", 9, { weight: "bold", color: "#262626" }));
  els.push(seg(655.5, 44, 680.5, 44, "#262626", 0.8));
  els.push(txt(647, 54, "# of times", 9, { align: "left", color: "#262626" }));
  els.push(txt(647.5, 66, "classified", 9, { align: "left", color: "#262626" }));
  els.push(txt(647.5, 77.5, "as", 9, { align: "left", color: "#262626" }));
  els.push(txt(658.5, 77.5, "C1", 9, { align: "left", weight: "bold", color: "#262626" }));
  els.push(txt(649, 211, "# of times", 9, { align: "left", color: "#262626" }));
  els.push(txt(649.5, 222, "classified", 9, { align: "left", color: "#262626" }));
  els.push(txt(649.5, 234, "as", 9, { align: "left", color: "#262626" }));
  els.push(txt(660.5, 234, "Cn", 9, { align: "left", weight: "bold", color: "#262626" }));
  els.push(txt(366, 28, "F", 17, { color: "#111" }));
  return els;
}

function legendItem(name: string, color: string) {
  return { name, icon: LINE_ICON, itemStyle: { color, borderWidth: 0 }, lineStyle: { color, width: 1.2 } };
}

function buildOption() {
  const grid: any[] = [];
  const xAxis: any[] = [];
  const yAxis: any[] = [];
  const series: any[] = [];

  // ---- Panel A ----
  grid.push({ left: 70, top: 39, width: 265, height: 205.5, show: true, borderColor: "#A0A0A0", borderWidth: 1, backgroundColor: "transparent" });
  xAxis.push({
    gridIndex: 0, type: "value", min: 80.3, max: 97.45, interval: 0.1,
    axisLine: { show: false, onZero: false }, axisTick: { show: false }, splitLine: { show: false },
    axisLabel: {
      margin: 4, color: "#333333", fontSize: 8, fontFamily: SERIF,
      formatter: (v: number) => {
        const k = Math.round(v * 10) - 803;
        return k % 20 === 0 && v < 95 ? v.toFixed(1) : "";
      },
    },
  });
  yAxis.push({
    gridIndex: 0, type: "value", min: -0.05, max: 0.7, interval: 0.05,
    axisLine: { show: false }, axisTick: { show: false }, splitLine: { show: false },
    axisLabel: {
      margin: 8, color: "#333333", fontSize: 8, fontFamily: SERIF,
      formatter: (v: number) => (Math.abs(Math.round(v * 100)) % 10 === 5 ? v.toFixed(2) : ""),
    },
  });
  A_CURVES.forEach((vals, i) => {
    series.push(...lines(0, A_NAMES[i], TEMP_A, [vals], A_COLORS[i], 0.8));
  });

  // ---- small panels ----
  PANELS.forEach((p, k) => {
    const idx = k + 1;
    const zeroOffset = -(p.height * (0 - p.ymin)) / (p.ymax - p.ymin);
    grid.push({ left: p.left, top: p.top, width: p.width, height: p.height, show: true, borderColor: "#D9D9D9", borderWidth: 1, backgroundColor: "transparent" });
    xAxis.push({
      gridIndex: idx, type: "value", min: 82, max: p.xmax, interval: 2, position: "bottom", offset: zeroOffset,
      axisLine: { show: true, onZero: false, lineStyle: { color: "#D9D9D9", width: 1 } },
      axisTick: { show: false }, splitLine: { show: false },
      axisLabel: {
        show: p.xLabels, margin: 6, color: TICK, fontSize: 10, fontFamily: FONT,
        formatter: (v: number) => (v > 94.5 ? "" : String(v)),
      },
    });
    yAxis.push({
      gridIndex: idx, type: "value", min: p.ymin, max: p.ymax, interval: p.yint,
      axisLine: { show: false }, axisTick: { show: false }, splitLine: { show: false },
      axisLabel: { margin: p.yMargin, color: TICK, fontSize: 10, fontFamily: FONT },
    });
  });

  series.push(...lines(1, "Acinetobacter baumannii", TEMP_B, B_BAUMANNII, BLUE));
  series.push(...lines(1, "Pasteurella multocida", TEMP_B, B_MULTOCIDA, RED));
  series.push(...lines(1, "Yersinia pestis", TEMP_B, B_PESTIS, GREEN));
  series.push(...lines(2, "Acinetobacter baumannii", TEMP_G, G_BAUMANNII, BLUE));
  series.push(...lines(2, "Pasteurella multocida", TEMP_G, G_MULTOCIDA, RED));
  series.push(...lines(2, "Yersinia pestis", TEMP_G, G_PESTIS, GREEN));
  series.push(...lines(3, "Bacillus cereus", TEMP_C, C_CEREUS, BLUE));
  series.push(...lines(3, "Bordetella pertussisa", TEMP_C, C_PERTUSSIS, RED));
  series.push(...lines(4, "Bacillus cereus", TEMP_H, H_CEREUS, BLUE));
  series.push(...lines(4, "Bordetella pertussisa", TEMP_H, H_PERTUSSIS, RED));
  series.push(...lines(5, "Haemophilus influenzae", TEMP_D, D_INFLUENZAE, BLUE));
  series.push(...lines(5, "Staphylococcus aureus", TEMP_D, D_AUREUS, RED));
  series.push(...lines(5, "Staphylococcus saprophyticus", TEMP_D, D_SAPROPHYTICUS, GREEN));
  series.push(...lines(6, "Haemophilus influenzae", TEMP_I, I_INFLUENZAE, BLUE));
  series.push(...lines(6, "Staphylococcus aureus", TEMP_I, I_AUREUS, RED));
  series.push(...lines(6, "Staphylococcus saprophyticus", TEMP_I, I_SAPROPHYTICUS, GREEN));
  series.push(...lines(7, "Neisseria gonorrhoeae", TEMP_E, E_GONORRHOEAE, BLUE));
  series.push(...lines(7, "Propionibacterium acnes", TEMP_E, E_ACNES, RED));
  series.push(...lines(8, "Neisseria gonorrhoeae", TEMP_J, J_GONORRHOEAE, BLUE));
  series.push(...lines(8, "Propionibacterium acnes", TEMP_J, J_ACNES, RED));

  const boxed = { orient: "vertical", selectedMode: false, backgroundColor: "#fff", borderColor: "#BFBFBF", borderWidth: 1, borderRadius: 0, z: 10 };
  const legend: any[] = [
    {
      orient: "vertical", selectedMode: false, left: 72, top: 41, height: 122, padding: 0,
      itemWidth: 8, itemHeight: 0.9, itemGap: 1.37, z: 10,
      textStyle: { fontSize: 4.6, lineHeight: 5, color: "#595959", fontFamily: FONT, padding: [0, 0, 0, -2] },
      data: A_NAMES.map((n, i) => legendItem(n, A_COLORS[i])),
    },
    {
      ...boxed, left: 74, top: 308, padding: [3, 6, 3, 9], itemWidth: 19, itemHeight: 1.2, itemGap: 6.5,
      textStyle: { fontSize: 9, lineHeight: 10, fontStyle: "italic", color: "#595959", fontFamily: FONT },
      data: [legendItem("Acinetobacter baumannii", BLUE), legendItem("Pasteurella multocida", RED), legendItem("Yersinia pestis", GREEN)],
    },
    {
      ...boxed, left: 72, top: 577, padding: [3.5, 8, 3.5, 11], itemWidth: 25, itemHeight: 1.2, itemGap: 7,
      textStyle: { fontSize: 9.3, lineHeight: 10, fontStyle: "italic", color: "#595959", fontFamily: FONT },
      data: [legendItem("Bacillus cereus", BLUE), legendItem("Bordetella pertussisa", RED)],
    },
    {
      ...boxed, left: 74, top: 851, padding: [2.5, 6, 2.5, 9], itemWidth: 17, itemHeight: 1.2, itemGap: 6,
      textStyle: { fontSize: 7.3, lineHeight: 8, fontStyle: "italic", color: "#595959", fontFamily: FONT },
      data: [legendItem("Haemophilus influenzae", BLUE), legendItem("Staphylococcus aureus", RED), legendItem("Staphylococcus saprophyticus", GREEN)],
    },
    {
      ...boxed, left: 74, top: 1127, padding: [4, 10, 4, 18], itemWidth: 23, itemHeight: 1.2, itemGap: 6,
      textStyle: { fontSize: 10.5, lineHeight: 11, fontStyle: "italic", color: "#595959", fontFamily: FONT },
      data: [legendItem("Neisseria gonorrhoeae", BLUE), legendItem("Propionibacterium acnes", RED)],
    },
  ];

  const g: any[] = [];
  g.push(txt(18, 23, "A", 17, { color: "#111" }));
  g.push(txt(202, 15, "Derivative melt curves for", 12.5, { weight: "bold", color: "#262626" }));
  g.push(txt(202, 32, "37 clinically relevant bacterial pathogens", 12.5, { weight: "bold", color: "#262626" }));
  g.push(txt(33, 135, "-dRFU/dT", 9.5, { weight: "bold", rot: Math.PI / 2, color: "#262626" }));
  g.push(txt(219, 267, "Temperature (°C)", 9.5, { weight: "bold", color: "#262626" }));
  const letters: [string, number, number][] = [
    ["B", 12, 326], ["G", 373, 316], ["C", 6, 600], ["H", 372, 593],
    ["D", 6, 864], ["I", 370, 867], ["E", 5, 1141], ["J", 375, 1137],
  ];
  letters.forEach(([t, x, y]) => g.push(txt(x, y, t, 16, { color: "#111" })));
  const groups: [string, number, number][] = [
    ["Group 1", 323, 323], ["Group 1", 680, 323], ["Group 2", 323, 593], ["Group 2", 680, 593],
    ["Group 3", 317, 870], ["Group 3", 686, 865], ["Group 4", 322, 1146], ["Group 4", 684, 1143],
  ];
  groups.forEach(([t, x, y]) => g.push(txt(x, y, t, 15, { align: "right", color: "#111" })));
  const yTitles: [number, number][] = [[36, 418], [387, 418], [33, 692], [385, 693], [33, 965], [383, 967], [33, 1240], [387, 1240]];
  yTitles.forEach(([x, y]) => g.push(txt(x, y, "-dRFU/dT", 10.5, { weight: "bold", rot: Math.PI / 2, color: TITLE })));
  const xTitles: [number, number][] = [[202, 543], [561, 543], [197, 813], [557, 816], [197, 1081], [558, 1093], [201, 1363], [561, 1364]];
  xTitles.forEach(([x, y]) => g.push(txt(x, y, "Temperature", 10.5, { weight: "bold", color: TITLE })));
  g.push(...panelF());

  return {
    animation: false,
    backgroundColor: "#fff",
    grid,
    xAxis,
    yAxis,
    legend,
    series,
    graphic: { elements: g },
  };
}

export default function App() {
  const ref = useRef<HTMLDivElement | null>(null);
  useEffect(() => {
    if (!ref.current) return;
    const chart = echarts.init(ref.current, null, { renderer: "svg" });
    chart.setOption(buildOption() as any);
    return () => chart.dispose();
  }, []);
  return (
    <div
      ref={ref}
      style={{ position: "absolute", left: 0, top: 0, width: 697, height: 1370, background: "#fff" }}
    />
  );
}
